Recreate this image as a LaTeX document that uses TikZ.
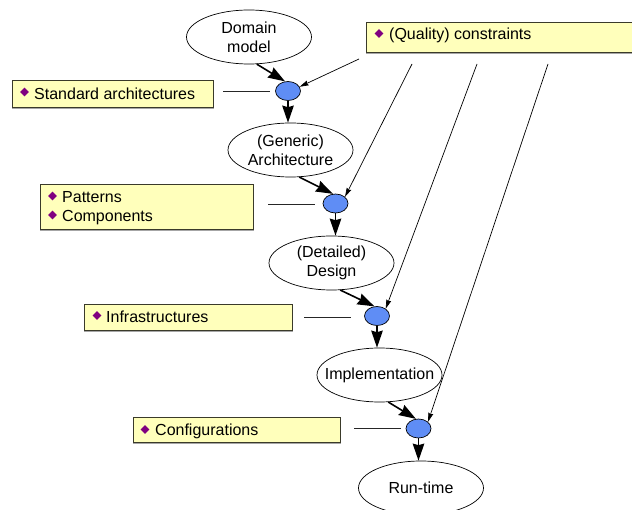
\documentclass[tikz,border=0pt]{standalone}
\usepackage{fontspec}
\setmainfont{Liberation Sans}
\usetikzlibrary{arrows.meta,shapes.geometric}
\definecolor{boxfill}{HTML}{FFFFBB}
\definecolor{boxline}{HTML}{3A3A2A}
\definecolor{gate}{HTML}{5F8DF5}
\definecolor{bul}{HTML}{800080}
\tikzset{
  x=1pt,y=-1pt,
  stage/.style={ellipse,draw=black,line width=0.7pt,fill=white,minimum width=125pt,minimum height=54pt,inner sep=0pt,
    label={[stagetext]center:#1}},
  stagetext/.style={inner sep=0pt,align=center,font=\fontsize{16}{19}\selectfont},
  gatenode/.style={ellipse,draw=black,line width=0.7pt,fill=gate,minimum width=25pt,minimum height=19pt,inner sep=0pt},
  infobox/.style={rectangle,draw=boxline,line width=0.8pt,fill=boxfill,anchor=north west,inner sep=0pt,
    preaction={draw=black!35,line width=0.8pt,transform canvas={xshift=.3pt,yshift=-.6pt}}},
  lbl/.style={anchor=west,inner sep=0pt,text height=11.5pt,text depth=3.5pt,font=\fontsize{16}{19}\selectfont},
  bullet/.style={diamond,fill=bul,inner sep=0pt,minimum width=9pt,minimum height=9pt},
  flow/.style={-{Stealth[length=17pt,width=11.5pt,inset=1.5pt]},line width=1.6pt,black},
  input/.style={-{Stealth[length=9pt,width=5pt,inset=1pt]},line width=0.7pt,black},
  plain/.style={line width=0.8pt,black!85}
}
\begin{document}
\begin{tikzpicture}
\useasboundingbox (0,0) rectangle (632,510);
% stages
\node[stage={Domain\\model}] (dom) at (249,37) {};
\node[stage={(Generic)\\Architecture}] (gen) at (290.5,150) {};
\node[stage={(Detailed)\\Design}] (det) at (331.5,263) {};
\node[stage={\raisebox{-1pt}{Implementation}}] (imp) at (379.5,375) {};
\node[stage={\raisebox{0.5pt}{Run-time}}] (run) at (421,488) {};
% gates
\node[gatenode] (g1) at (288,91) {};
\node[gatenode] (g2) at (335.5,203.5) {};
\node[gatenode] (g3) at (377,316) {};
\node[gatenode] (g4) at (418.5,428.5) {};
% boxes
\node[infobox,minimum width=201pt,minimum height=27pt] (bstd) at (12,80) {};
\node[infobox,minimum width=290pt,minimum height=30pt] (bqual) at (366,22) {};
\node[infobox,minimum width=213pt,minimum height=45pt] (bpat) at (40,184) {};
\node[infobox,minimum width=208pt,minimum height=26pt] (binf) at (84,304) {};
\node[infobox,minimum width=207pt,minimum height=25pt] (bcfg) at (133,417) {};
% box contents
\node[bullet] (d1) at (24.5,92) {};
\node[lbl] (t1) at (34,95.5) {Standard architectures};
\node[bullet] (d2) at (379,33.5) {};
\node[lbl] (t2) at (389,36) {(Quality) constraints};
\node[bullet] (d3) at (52.5,196) {};
\node[lbl] (t3) at (62,198.5) {Patterns};
\node[bullet] (d4) at (52.5,215) {};
\node[lbl] (t4) at (62,217.5) {Components};
\node[bullet] (d5) at (97,315.5) {};
\node[lbl] (t5) at (106,319) {Infrastructures};
\node[bullet] (d6) at (145,429.5) {};
\node[lbl] (t6) at (155,431.5) {Configurations};
% free ends
\coordinate (a1) at (223,91);
\coordinate (a2) at (270,91);
\coordinate (b1) at (268,204);
\coordinate (b2) at (315,204);
\coordinate (c1) at (304,317);
\coordinate (c2) at (351,317);
\coordinate (e1) at (354,428);
\coordinate (e2) at (401,428);
\coordinate (q1) at (359,59);
\coordinate (q2) at (412,64);
\coordinate (q3) at (477,64);
\coordinate (q4) at (548,64);
% connectors
\draw[plain] (a1) -- (a2);
\draw[plain] (b1) -- (b2);
\draw[plain] (c1) -- (c2);
\draw[plain] (e1) -- (e2);
\draw[input] (q1) -- (g1.20);
\draw[input] (q2) -- (g2.35);
\draw[input] (q3) -- (g3.40);
\draw[input] (q4) -- (g4.35);
\draw[flow] (dom.-74) -- (g1.107);
\draw[flow] (g1.south) -- (g1.south |- gen.north);
\draw[flow] (gen.-72) -- (g2.105);
\draw[flow] (g2.south) -- (g2.south |- det.north);
\draw[flow] (det.-72) -- (g3.105);
\draw[flow] (g3.south) -- (g3.south |- imp.north);
\draw[flow] (imp.-72) -- (g4.105);
\draw[flow] (g4.south) -- (g4.south |- run.north);
\end{tikzpicture}
\end{document}
